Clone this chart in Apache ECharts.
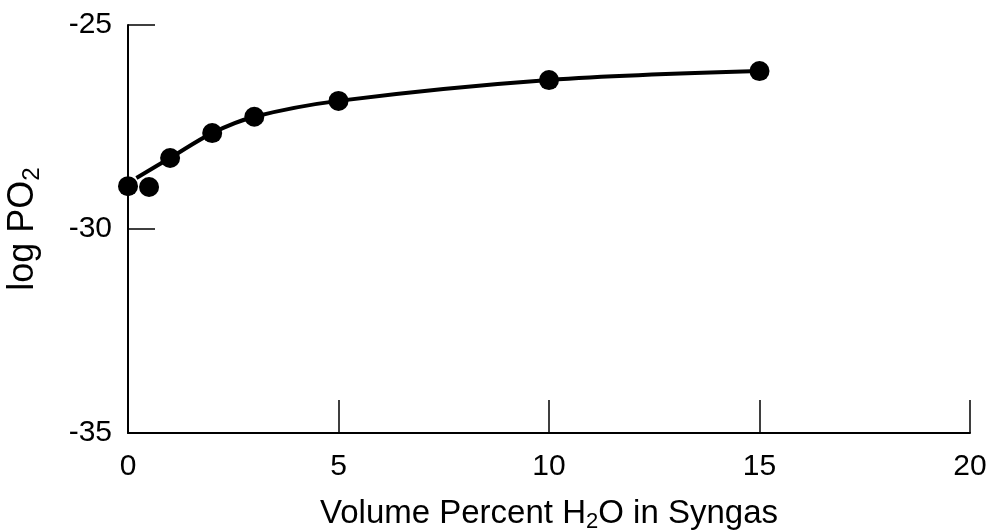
<!DOCTYPE html>
<html><head><meta charset="utf-8">
<script src="https://cdn.jsdelivr.net/npm/echarts@6/dist/echarts.min.js"></script>
<style>html,body{margin:0;padding:0;background:#fff}#c{width:989px;height:532px}</style>
</head><body><div id="c"></div>
<script>
// Measured points
const xValues = [0, 0.5, 1, 2, 3, 5, 10, 15];
const yValues = [-28.95, -28.97, -28.26, -27.65, -27.25, -26.86, -26.35, -26.13];
// Fitted curve
const curveX = [0.2, 1, 2, 3, 5, 10, 15];
const curveY = [-28.75, -28.26, -27.65, -27.25, -26.86, -26.35, -26.13];
const xTicks = [0, 5, 10, 15, 20];
const yTicks = [-35, -30, -25];

const font = 'Liberation Sans, Arial, Helvetica, sans-serif';
const chart = echarts.init(document.getElementById('c'));
chart.setOption({
  backgroundColor: '#fff',
  animation: false,
  grid: {left: 128, top: 25, right: 19, bottom: 99, outerBoundsMode: 'none', containLabel: false},
  xAxis: {
    type: 'value', min: 0, max: 20, interval: 5,
    axisLine: {lineStyle: {color: '#000', width: 2}},
    axisTick: {inside: true, length: 33, lineStyle: {color: '#000', width: 1.5}},
    splitLine: {show: false},
    axisLabel: {color: '#000', fontSize: 30, fontFamily: font, margin: 19,
      formatter: v => xTicks.includes(v) ? String(v) : ''},
    name: '{n|Volume Percent H}{s|2}{n|O in Syngas}',
    nameLocation: 'middle', nameGap: 62,
    nameTextStyle: {rich: {
      n: {fontSize: 33, fontFamily: font, color: '#000'},
      s: {fontSize: 22, fontFamily: font, color: '#000', padding: [16, 0, 0, 0]}
    }}
  },
  yAxis: {
    type: 'value', min: -35, max: -25, interval: 5,
    axisLine: {show: true, lineStyle: {color: '#000', width: 2}},
    axisTick: {show: true, inside: true, length: 27, lineStyle: {color: '#000', width: 1.5}},
    splitLine: {show: false},
    axisLabel: {color: '#000', fontSize: 30, fontFamily: font, margin: 16,
      formatter: v => yTicks.includes(v) ? String(v) : ''},
    name: '{n|log PO}{s|2}',
    nameLocation: 'middle', nameGap: 84, nameRotate: 90,
    nameTextStyle: {rich: {
      n: {fontSize: 36, fontFamily: font, color: '#000'},
      s: {fontSize: 24, fontFamily: font, color: '#000', padding: [17, 0, 0, 0]}
    }}
  },
  series: [
    {
      type: 'line', smooth: 0.35, showSymbol: false, silent: true,
      data: curveX.map((x, i) => [x, curveY[i]]),
      lineStyle: {color: '#000', width: 4}
    },
    {
      type: 'scatter', symbol: 'circle', symbolSize: 20,
      data: xValues.map((x, i) => [x, yValues[i]]),
      itemStyle: {color: '#000', opacity: 1}
    }
  ]
});
</script></body></html>
